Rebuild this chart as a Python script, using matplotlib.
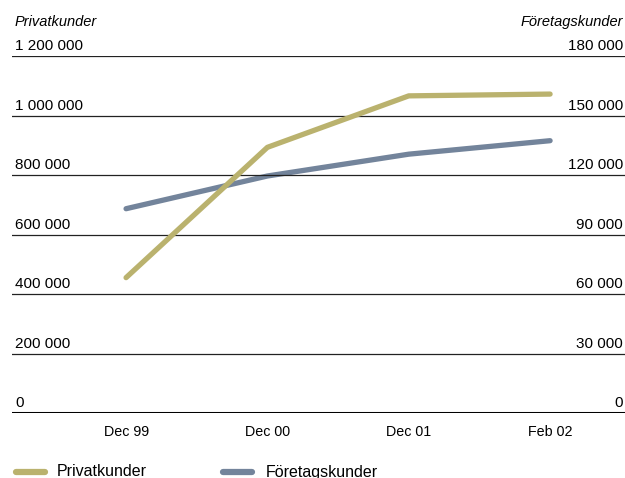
import numpy as np
import matplotlib
matplotlib.use("Agg")
import matplotlib.pyplot as plt
import matplotlib.transforms as mtransforms
from matplotlib.lines import Line2D

# data
periods = ["Dec 99", "Dec 00", "Dec 01", "Feb 02"]
privatkunder = [455000, 893000, 1066000, 1072000]
foretagskunder = [103000, 119500, 130500, 137300]

left_ticks = [0, 200000, 400000, 600000, 800000, 1000000, 1200000]
right_ticks = [0, 30000, 60000, 90000, 120000, 150000, 180000]

col_privat = "#bab26e"
col_foretag = "#73849b"

plt.rcParams["font.family"] = ["Liberation Sans", "DejaVu Sans"]

def fmt(v):
    return "{:,}".format(v).replace(",", " ")

W, H = 625, 478
fig = plt.figure(figsize=(W/100, H/100), dpi=100)
ax = fig.add_axes([12/W, 1-413/H, 1-12/W, (413-56)/H])
ax2 = ax.twinx()

x = np.arange(len(periods))
ax.set_xlim(-0.807, 3.53)
ax.set_ylim(0, 1200000)
ax2.set_ylim(0, 180000)

for a in (ax, ax2):
    for s in a.spines.values():
        s.set_visible(False)
    a.set_yticks([])
    a.tick_params(length=0)

# gridlines
for t in left_ticks:
    if t == 0:
        ax.axhline(t, color="black", lw=2.2, zorder=1)
    else:
        ax.axhline(t, color="#222222", lw=0.9, zorder=1)

ax2.plot(x, foretagskunder, color=col_foretag, lw=3.8, solid_capstyle="round", zorder=3)
ax2.set_zorder(ax.get_zorder() + 1)
ax.patch.set_visible(False)
ax.plot(x, privatkunder, color=col_privat, lw=3.8, solid_capstyle="round", zorder=3)
ax.set_zorder(ax2.get_zorder() + 1)

# y labels above gridlines
trl = mtransforms.blended_transform_factory(ax.transAxes, ax.transData)
for t in left_ticks:
    ax.text(3/613, t + 9000, fmt(t), transform=trl, ha="left", va="bottom", fontsize=11)
trr = mtransforms.blended_transform_factory(ax2.transAxes, ax2.transData)
for t in right_ticks:
    ax2.text(1 - 2/613, t + 1350, fmt(t), transform=trr, ha="right", va="bottom", fontsize=11)

fig.text(15/W, 1-22/H, "Privatkunder", style="italic", fontsize=10.5, va="center", ha="left")
fig.text(623/W, 1-22/H, "Företagskunder", style="italic", fontsize=10.5, va="center", ha="right")

ax.set_xticks(x)
ax.set_xticklabels(periods, fontsize=10.3)
ax.tick_params(axis="x", pad=9)

# legend, placed by hand
ly = 1 - 472/H
for (x0, x1, tx), lab, c in zip([(16, 45, 57), (223, 252, 266)],
                                ["Privatkunder", "Företagskunder"],
                                [col_privat, col_foretag]):
    fig.add_artist(Line2D([x0/W, x1/W], [ly, ly], color=c, lw=4.5,
                          solid_capstyle="round", transform=fig.transFigure))
    fig.text(tx/W, ly, lab, fontsize=11.5, ha="left", va="center")

fig.savefig("out.png", dpi=100)
